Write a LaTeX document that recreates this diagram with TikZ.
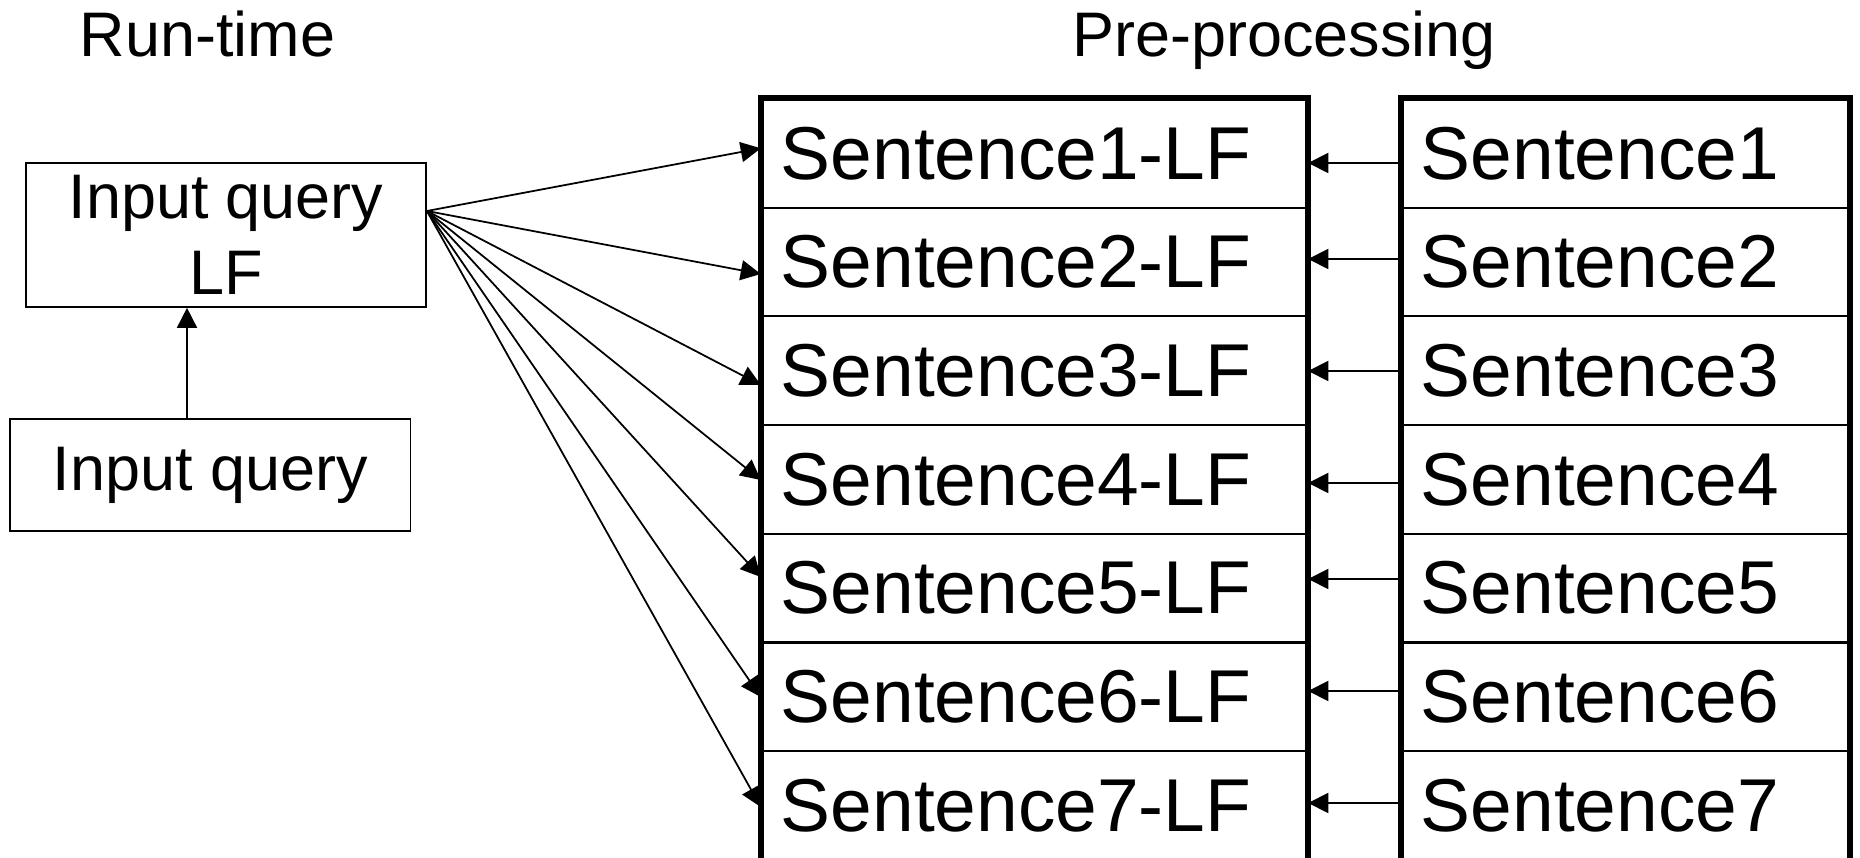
\documentclass[tikz,border=0pt]{standalone}
\usepackage{fontspec}
\setmainfont{Liberation Sans}
\usetikzlibrary{arrows.meta}
\begin{document}
\begin{tikzpicture}[x=0.01cm,y=-0.01cm,
  thinbox/.style={draw, line width=0.45pt, inner sep=0pt, align=center, font=\fontsize{17.9}{21.6}\selectfont},
  cell/.style={draw, line width=0.6pt, minimum height=1.087cm, inner xsep=0.19cm, inner ysep=0pt, align=left, font=\fontsize{21.3}{25}\selectfont},
  lfcell/.style={cell, text width=5.07cm},
  scell/.style={cell, text width=4.09cm},
  arr/.style={-{Triangle[length=5.7pt,width=5.7pt]}, line width=0.5pt},
  title/.style={anchor=base, font=\fontsize{17.9}{21.6}\selectfont},
  frame/.style={line width=1.7pt}
]
\useasboundingbox (0,0) rectangle (1860,858);

\node[title] (rt) at (207.5,57) {Run-time};
\node[title] (pp) at (1284,57) {Pre-processing};

\node[thinbox, minimum width=4cm, minimum height=1.44cm] (iqlf) at (226,235) {Input query\\LF};
\node[thinbox, minimum width=4.005cm, minimum height=1.12cm] (iq) at (210.25,475) {Input query};

\foreach \i in {1,...,7} {
  \node[lfcell] (l\i) at (1034.5, {99+108.7*(\i-0.5)}) {Sentence\i-LF};
  \node[scell] (s\i) at (1625.5, {99+108.7*(\i-0.5)}) {Sentence\i};
}

\draw[frame] (l7.south west) -- (l1.north west) -- (l1.north east) -- (l7.south east);
\draw[frame] (s7.south west) -- (s1.north west) -- (s1.north east) -- (s7.south east);

\draw[arr] (iq.north -| 187,0) -- (iqlf.south -| 187,0);

\coordinate (src) at (iqlf.east |- 0,211);
\foreach \i/\y in {1/148.3,2/274,3/385,4/480,5/577,6/697,7/807}
  \draw[arr] (src) -- (l\i.west |- 0,\y);

\foreach \i/\y in {1/163,2/259,3/371,4/483,5/579,6/691,7/803}
  \draw[arr] (s\i.west |- 0,\y) -- (l\i.east |- 0,\y);
\end{tikzpicture}
\end{document}
